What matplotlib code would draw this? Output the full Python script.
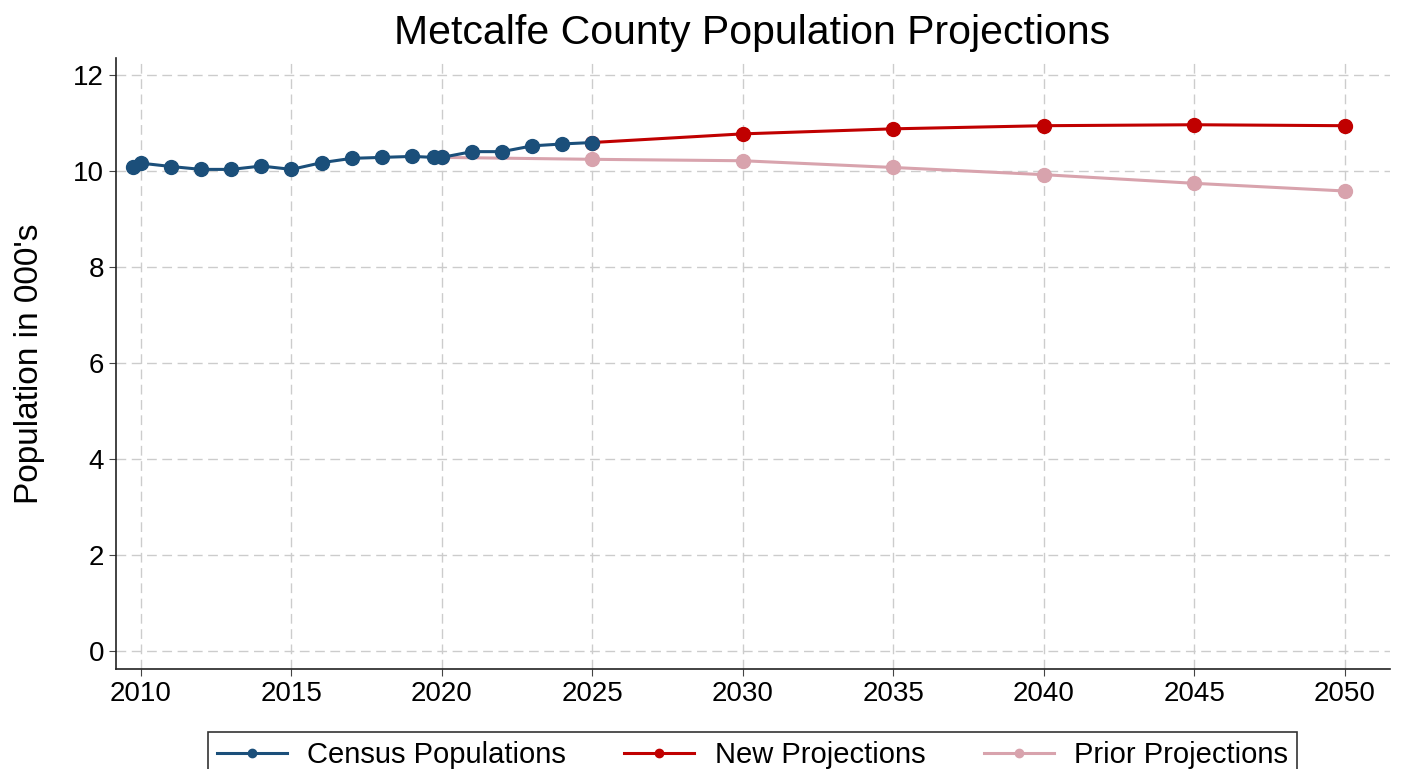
import matplotlib
matplotlib.use('Agg')
import matplotlib.pyplot as plt

plt.rcParams['font.family'] = ['Liberation Sans', 'DejaVu Sans']

census_years = [2009.75, 2010, 2011, 2012, 2013, 2014, 2015, 2016, 2017, 2018, 2019,
                2019.75, 2020, 2021, 2022, 2023, 2024, 2025]
census_pop = [10.09, 10.16, 10.09, 10.03, 10.03, 10.10, 10.03, 10.17, 10.26, 10.28, 10.30,
              10.28, 10.28, 10.40, 10.40, 10.52, 10.56, 10.59]

new_years = [2025, 2030, 2035, 2040, 2045, 2050]
new_pop = [10.59, 10.77, 10.875, 10.94, 10.96, 10.94]

prior_years = [2020, 2025, 2030, 2035, 2040, 2045, 2050]
prior_pop = [10.28, 10.24, 10.21, 10.07, 9.92, 9.74, 9.58]

x_ticks = [2010, 2015, 2020, 2025, 2030, 2035, 2040, 2045, 2050]
y_ticks = [0, 2, 4, 6, 8, 10, 12]

fig = plt.figure(figsize=(14.01, 7.69), dpi=100)
ax = fig.add_axes([116 / 1401, 1 - 669 / 769, (1390 - 116) / 1401, (669 - 58) / 769])

ax.plot(prior_years, prior_pop, color='#d8a3ad', lw=2.2, marker='o', ms=10, label='Prior Projections', zorder=2)
ax.plot(new_years, new_pop, color='#c00000', lw=2.2, marker='o', ms=10, label='New Projections', zorder=3)
ax.plot(census_years, census_pop, color='#1b4f7a', lw=2.2, marker='o', ms=10, label='Census Populations', zorder=4)

ax.set_xlim(2009.17, 2051.5)
ax.set_ylim(-0.375, 12.35)
ax.set_xticks(x_ticks)
ax.set_yticks(y_ticks)
ax.tick_params(labelsize=20, length=5, color='#444444')
ax.grid(True, color='#cccccc', linestyle=(0, (7, 4)), lw=1)
ax.set_axisbelow(True)
for s in ['top', 'right']:
    ax.spines[s].set_visible(False)
for s in ['left', 'bottom']:
    ax.spines[s].set_color('#222222')
    ax.spines[s].set_linewidth(1.2)

ax.set_ylabel("Population in 000's", fontsize=24)
ax.yaxis.set_label_coords(-0.056, 0.5)
fig.text(752 / 1401, 1 - 33 / 769, 'Metcalfe County Population Projections', fontsize=29.5,
         ha='center', va='center')

h, l = ax.get_legend_handles_labels()
order = [2, 1, 0]
leg = fig.legend([h[i] for i in order], [l[i] for i in order], loc='upper center',
                 bbox_to_anchor=(752.5 / 1401, 1 - 732 / 769), borderaxespad=0,
                 ncol=3, fontsize=21, frameon=True, fancybox=False, edgecolor='black',
                 columnspacing=2.0, handlelength=2.4, handletextpad=0.7,
                 borderpad=0.3, markerscale=0.6)
leg.get_frame().set_linewidth(1.2)

fig.savefig('out.png', dpi=100)
